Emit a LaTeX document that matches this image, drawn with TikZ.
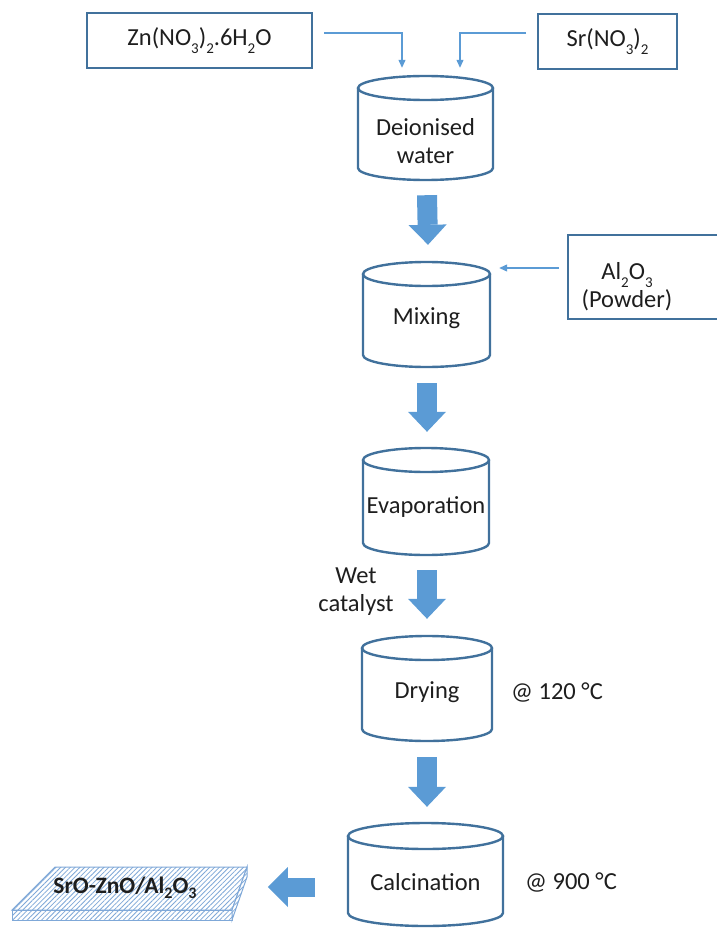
\documentclass[tikz,border=0pt]{standalone}
\usepackage{fontspec}
\setmainfont{Carlito}
\usetikzlibrary{arrows.meta,patterns.meta,calc}
\definecolor{edge}{HTML}{41719C}
\definecolor{fillb}{HTML}{5B9BD5}
\definecolor{hatch}{HTML}{7FA8D8}
\definecolor{txt}{HTML}{1E1E1E}
\newcommand\sbs[1]{\raisebox{-0.3em}{\fontsize{15}{15}\selectfont #1}}
\newcommand\sbsb[1]{\raisebox{-0.22em}{\fontsize{16}{16}\selectfont #1}}
\newcommand\mycyl[6]{%
  \node[cylbody, minimum width={#3-#2}, minimum height={#5-#4}] (#1) at ({(#2+#3)/2},{(#4+#5)/2}) {};
  \draw[cylline] ({#2},{#4+#6}) -- ({#2},{#5-#6})
     .. controls ({#2},{#5-0.4477*#6}) and ({(#2+#3)/2-0.5523*(#3-#2)/2},{#5}) .. ({(#2+#3)/2},{#5})
     .. controls ({(#2+#3)/2+0.5523*(#3-#2)/2},{#5}) and ({#3},{#5-0.4477*#6}) .. ({#3},{#5-#6})
     -- ({#3},{#4+#6});
  \draw[cylline] ({(#2+#3)/2},{#4+#6}) ellipse[x radius={(#3-#2)/2}, y radius={#6}];
}
\begin{document}
\begin{tikzpicture}[x=1pt,y=-1pt,
  box/.style={draw=edge, line width=2pt, inner sep=0pt, text=txt, font=\fontsize{24.5}{29}\selectfont},
  cylline/.style={draw=edge, line width=2.4pt},
  cylbody/.style={inner sep=0pt, draw=none},
  lbl/.style={inner sep=0pt, align=center, text=txt, font=\fontsize{24.5}{28}\selectfont},
  thinarrow/.style={draw=fillb, line width=1.2pt, -{Triangle[width=7pt,length=8pt]}},
  blk/.style={draw=fillb, line width=20pt, -{Triangle[width=38pt,length=20pt,line width=0pt]}},
  blkleft/.style={draw=fillb, line width=19pt, -{Triangle[width=40pt,length=20pt,line width=0pt]}},
  plateline/.style={draw=hatch, line width=1pt, pattern={Lines[angle=45,distance=3.4pt,line width=0.8pt]}, pattern color=hatch}
]
\useasboundingbox (0,0) rectangle (716,928);

% input boxes
\node[box, minimum width=225, minimum height=55] (zn) at (199.5,40.5) {Zn(NO\sbs{3})\sbs{2}.6H\sbs{2}O};
\node[box, minimum width=139, minimum height=55] (sr) at (607.5,41.5) {Sr(NO\sbs{3})\sbs{2}};
\node[box, minimum width=162, minimum height=84] (al) at (649,277) {};
\node[lbl] (alt) at (627,287) {Al\sbs{2}O\sbs{3}\\(Powder)};

% cylinders
\mycyl{deion}{358}{493}{76}{180}{12}
\mycyl{mix}{363}{490}{262}{367}{12}
\mycyl{evap}{363}{489}{448}{555}{12}
\mycyl{dry}{362}{492}{636}{741}{12}
\mycyl{calc}{348}{503}{823}{926}{13}

\node[lbl] (deiont) at (425.5,141) {Deionised\\water};
\node[lbl] (mixt) at (426.5,318) {Mixing};
\node[lbl] (evapt) at (426,507) {Evaporation};
\node[lbl] (dryt) at (427,692) {Drying};
\node[lbl] (calct) at (425.5,882) {Calcination};

% side labels
\node[lbl] (wet) at (356,592) {Wet\\catalyst};
\node[lbl] (t120) at (557,692) {@ 120 °C};
\node[lbl] (t900) at (571,882) {@ 900 °C};

% thin connectors
\draw[thinarrow] ([shift={(11,-7.5)}]zn.east) -| ([shift={(-23.5,-8)}]deion.north);
\draw[thinarrow] ([shift={(-11,-8.5)}]sr.west) -| ([shift={(34.5,-8)}]deion.north);
\draw[thinarrow] ([shift={(-8,-9)}]al.west) -- ([shift={(9,-46.5)}]mix.east);

% block arrows
\draw[blk] ([shift={(1.5,15)}]deion.south) -- ([shift={(1.5,-17)}]mix.north);
\draw[blk] ([shift={(0.5,16)}]mix.south) -- ([shift={(1,-16)}]evap.north);
\draw[blk] ([shift={(1,15)}]evap.south) -- ([shift={(0,-17)}]dry.north);
\draw[blk] ([shift={(0,16)}]dry.south) -- ([shift={(1.5,-16)}]calc.north);

% product plate
\path[preaction={fill=white}, plateline] (55,867) -- (247,867) -- (232,910) -- (12,910) -- cycle;
\path[preaction={fill=white}, plateline] (12,910) -- (232,910) -- (232,920) -- (12,920) -- cycle;
\path[preaction={fill=white}, plateline] (232,910) -- (247,867) -- (247,877) -- (232,920) -- cycle;
\node[inner sep=0pt, text=txt, font=\bfseries\fontsize{23.5}{28}\selectfont] (plate) at (125,888) {SrO-ZnO/Al\sbsb{2}O\sbsb{3}};

\draw[blkleft] ([shift={(-33,12.5)}]calc.west) -- ++(-47,0);
\end{tikzpicture}
\end{document}
